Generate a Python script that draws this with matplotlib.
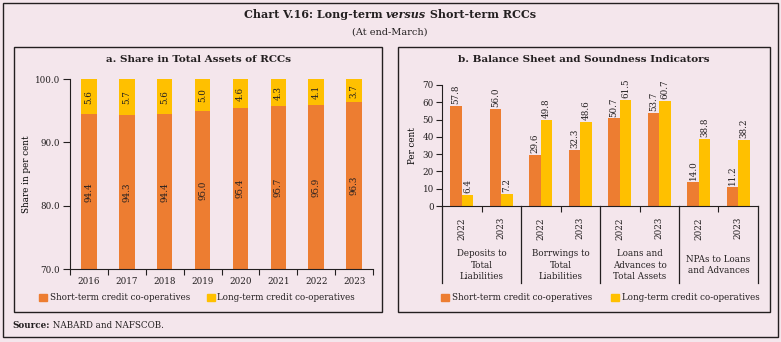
import numpy as np
import matplotlib
matplotlib.use("Agg")
import matplotlib.pyplot as plt
from matplotlib.patches import Rectangle, Patch
from matplotlib.transforms import blended_transform_factory

# ==================================
# DATA
# ==================================

years = ["2016", "2017", "2018", "2019", "2020", "2021", "2022", "2023"]
short_share = [94.4, 94.3, 94.4, 95.0, 95.4, 95.7, 95.9, 96.3]
long_share = [5.6, 5.7, 5.6, 5.0, 4.6, 4.3, 4.1, 3.7]

groups = [
    "Deposits to\nTotal\nLiabilities",
    "Borrwings to\nTotal\nLiabilities",
    "Loans and\nAdvances to\nTotal Assets",
    "NPAs to Loans\nand Advances",
]
group_years = ["2022", "2023"]
short_ind = [57.8, 56.0, 29.6, 32.3, 50.7, 53.7, 14.0, 11.2]
long_ind = [6.4, 7.2, 49.8, 48.6, 61.5, 60.7, 38.8, 38.2]

series_names = ["Short-term credit co-operatives", "Long-term credit co-operatives"]

# ==================================
# STYLE
# ==================================

ORANGE = "#ED7D31"
YELLOW = "#FFC000"
BG = "#F4E6EC"
INK = "#231F20"
FS = 6.3

plt.rcParams["font.family"] = ["DejaVu Serif"]
plt.rcParams["text.color"] = INK
plt.rcParams["axes.edgecolor"] = INK
plt.rcParams["xtick.color"] = INK
plt.rcParams["ytick.color"] = INK

W, H = 781, 342
fig = plt.figure(figsize=(W / 100, H / 100), dpi=100)
fig.patch.set_facecolor(BG)


def px_box(x0, y0, x1, y1):
    # pixel box (top-left origin) -> figure fraction rect
    return [x0 / W, 1 - y1 / H, (x1 - x0) / W, (y1 - y0) / H]


# frames
for (x0, y0, x1, y1) in [(3, 3, 778, 337), (14, 47, 382, 312), (398, 47, 770, 312)]:
    r = px_box(x0, y0, x1, y1)
    fig.patches.append(Rectangle((r[0], r[1]), r[2], r[3], transform=fig.transFigure,
                                 fill=False, edgecolor=INK, linewidth=1.0))

# ==================================
# TITLES
# ==================================

title_kw = dict(fontsize=8, fontweight="bold", va="center")
t_left = fig.text(0, 1 - 15 / H, "Chart V.16: Long-term ", ha="left", **title_kw)
t_mid = fig.text(0, 1 - 15 / H, "versus", ha="left", style="italic", **title_kw)
t_right = fig.text(0, 1 - 15 / H, " Short-term RCCs", ha="left", **title_kw)

fig.text(390 / W, 1 - 32 / H, "(At end-March)", ha="center", va="center", fontsize=7)

fig.text(198 / W, 1 - 60 / H, "a. Share in Total Assets of RCCs", ha="center",
         va="center", fontsize=7.5, fontweight="bold")
fig.text(584 / W, 1 - 60 / H, "b. Balance Sheet and Soundness Indicators", ha="center",
         va="center", fontsize=7.5, fontweight="bold")

# ==================================
# PANEL A
# ==================================

ax1 = fig.add_axes(px_box(70, 79, 373, 269))
ax1.set_facecolor("none")
x = np.arange(len(years))
bw = 0.41
ax1.bar(x, [s - 70 for s in short_share], bottom=70, width=bw, color=ORANGE)
ax1.bar(x, long_share, bottom=short_share, width=bw, color=YELLOW)

for i in range(len(years)):
    ax1.text(x[i], (70 + short_share[i]) / 2, f"{short_share[i]:.1f}", rotation=90,
             ha="center", va="center", fontsize=FS)
    ax1.text(x[i], short_share[i] + long_share[i] / 2, f"{long_share[i]:.1f}", rotation=90,
             ha="center", va="center", fontsize=FS)

ax1.set_xlim(-0.5, len(years) - 0.5)
ax1.set_ylim(70, 100)
ax1.set_yticks([70, 80, 90, 100])
ax1.set_yticklabels([f"{v:.1f}" for v in [70, 80, 90, 100]], fontsize=FS)
ax1.set_xticks(x)
ax1.set_xticklabels(years, fontsize=FS)
ax1.tick_params(axis="x", which="major", length=0, pad=6)
ax1.set_xticks(np.arange(-0.5, len(years)), minor=True)
ax1.tick_params(axis="x", which="minor", length=4, width=0.8)
ax1.tick_params(axis="y", length=5, width=0.8, pad=2)
ax1.set_ylabel("Share in per cent", fontsize=FS, labelpad=3)
for s in ["top", "right"]:
    ax1.spines[s].set_visible(False)

handles = [Patch(color=ORANGE), Patch(color=YELLOW)]
leg_kw = dict(loc="center left", frameon=False, fontsize=FS, handlelength=0.9,
              handleheight=0.9, handletextpad=0.3, borderaxespad=0, borderpad=0)
for xpos, h, name in [(39, handles[0], series_names[0]), (207, handles[1], series_names[1]),
                      (441, handles[0], series_names[0]), (611, handles[1], series_names[1])]:
    fig.legend([h], [name], bbox_to_anchor=(xpos / W, 1 - 298 / H), **leg_kw)

# ==================================
# PANEL B
# ==================================

ax2 = fig.add_axes(px_box(442, 85, 758, 206))
ax2.set_facecolor("none")
xb = np.arange(len(short_ind))
bw2 = 0.29
ax2.bar(xb - bw2 / 2, short_ind, width=bw2, color=ORANGE)
ax2.bar(xb + bw2 / 2, long_ind, width=bw2, color=YELLOW)
for i in range(len(xb)):
    ax2.text(xb[i] - bw2 / 2, short_ind[i] + 1, f"{short_ind[i]:.1f}", rotation=90,
             ha="center", va="bottom", fontsize=FS)
    ax2.text(xb[i] + bw2 / 2, long_ind[i] + 1, f"{long_ind[i]:.1f}", rotation=90,
             ha="center", va="bottom", fontsize=FS)

ax2.set_xlim(-0.5, len(xb) - 0.5)
ax2.set_ylim(0, 70)
ax2.set_yticks(range(0, 71, 10))
ax2.tick_params(axis="y", length=4, width=0.8, pad=2, labelsize=FS)
ax2.set_ylabel("Per cent", fontsize=FS, labelpad=4)
ax2.set_xticks(xb)
ax2.set_xticklabels(group_years * len(groups), rotation=90, fontsize=FS)
ax2.tick_params(axis="x", which="major", length=0, pad=8)
ax2.set_xticks(np.arange(0.5, len(xb), 2), minor=True)
ax2.tick_params(axis="x", which="minor", length=4, width=0.8)
for s in ["top", "right"]:
    ax2.spines[s].set_visible(False)

trans = blended_transform_factory(ax2.transData, ax2.transAxes)
sep_depth = (283 - 206) / (206 - 85)
for b in np.arange(-0.5, len(xb), 2):
    ax2.plot([b, b], [0, -sep_depth], transform=trans, color=INK, linewidth=0.9,
             clip_on=False)
lab_y = -(265 - 206) / (206 - 85)
for g, name in enumerate(groups):
    ax2.text(2 * g + 0.5, lab_y, name, transform=trans, ha="center", va="center",
             fontsize=FS, linespacing=1.3)

# ==================================
# SOURCE
# ==================================

src = fig.text(12 / W, 1 - 325 / H, "Source:", fontsize=FS, fontweight="bold",
               ha="left", va="center")
note = fig.text(0, 1 - 325 / H, " NABARD and NAFSCOB.", fontsize=FS,
                ha="left", va="center")

# place the pieces of mixed-style lines next to each other
fig.canvas.draw()
r = fig.canvas.get_renderer()
wl = t_left.get_window_extent(r).width
wm = t_mid.get_window_extent(r).width
wr = t_right.get_window_extent(r).width
x0 = 390 - (wl + wm + wr) / 2
t_left.set_x(x0 / W)
t_mid.set_x((x0 + wl) / W)
t_right.set_x((x0 + wl + wm) / W)
note.set_x((12 + src.get_window_extent(r).width) / W)

fig.savefig("out.png", dpi=100, facecolor=BG)
